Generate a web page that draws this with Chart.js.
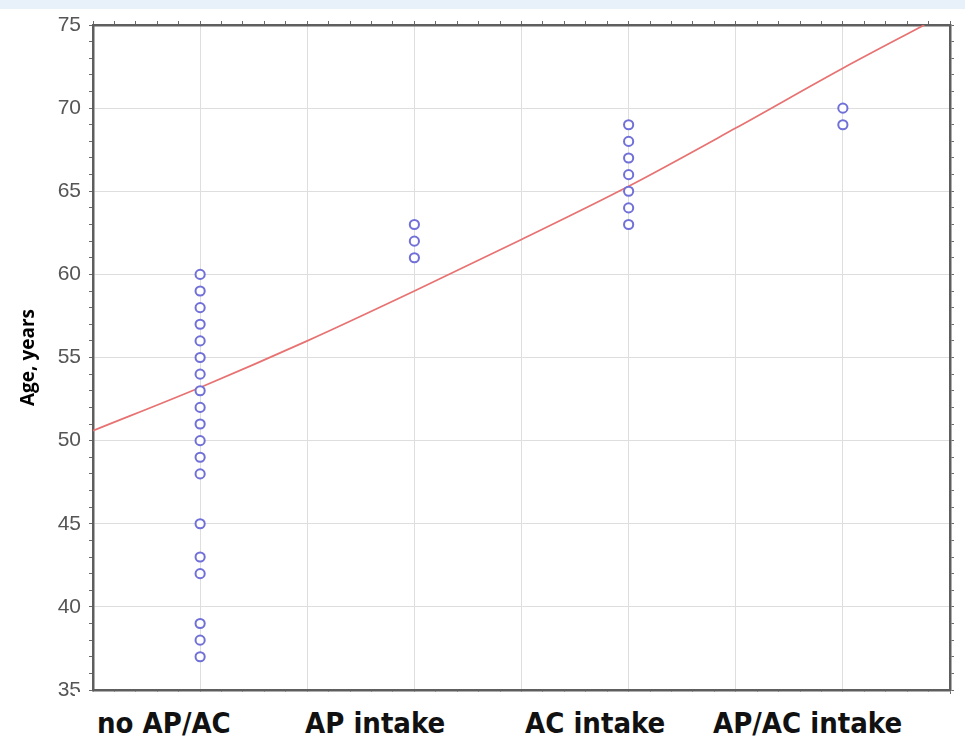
<!DOCTYPE html>
<html>
<head>
<meta charset="utf-8">
<script src="https://cdn.jsdelivr.net/npm/chart.js@4.4.1/dist/chart.umd.min.js"></script>
<style>
html,body{margin:0;padding:0;background:#fff;}
#wrap{position:relative;width:965px;height:741px;overflow:hidden;
  background:linear-gradient(to bottom,#e8f1fa 0,#e8f1fa 9px,#fff 9px);}
#chart{position:absolute;left:0;top:0;}
#cats{position:absolute;left:75px;top:692px;width:860px;height:49px;background:#fff;}
#cats span{position:absolute;top:17px;font:bold 29px "DejaVu Sans Condensed","DejaVu Sans",sans-serif;
  line-height:29px;color:#111;white-space:nowrap;}
</style>
</head>
<body>
<div id="wrap">
  <canvas id="chart" width="965" height="741"></canvas>
  <div id="cats"></div>
</div>
<script>
// groups along the x axis
const categories = ["no AP/AC", "AP intake", "AC intake", "AP/AC intake"];

// age of each patient, per group
const ageNoApAc = [60, 59, 58, 57, 56, 55, 54, 53, 52, 51, 50, 49, 48, 45, 43, 42, 39, 38, 37];
const ageApIntake = [63, 62, 61];
const ageAcIntake = [69, 68, 67, 66, 65, 64, 63];
const ageApAcIntake = [70, 69];

// fitted curve
const trendX = [0.5, 1, 1.5, 2, 2.5, 3, 3.5, 4, 4.38];
const trendY = [50.6, 53.2, 56.0, 59.0, 62.1, 65.3, 68.8, 72.4, 75];

const yTicks = [35, 40, 45, 50, 55, 60, 65, 70, 75];

const groups = [ageNoApAc, ageApIntake, ageAcIntake, ageApAcIntake];
const points = [];
groups.forEach((g, i) => {
    g.forEach(age => points.push({x: i + 1, y: age}));
});

const trend = trendX.map((x, i) => ({x: x, y: trendY[i]}));

function isHalf(v){
    return Math.abs(v * 2 - Math.round(v * 2)) < 1e-6;
}

const frame = "#5e5e5e";
const tickCol = "#6a6a6a";

new Chart(document.getElementById("chart"), {
    type: "scatter",
    data: {
        datasets: [{
            data: points,
            pointStyle: "circle",
            pointRadius: 4.6,
            borderWidth: 2,
            borderColor: "#7070d8",
            backgroundColor: "#fff"
        }, {
            data: trend,
            showLine: true,
            pointRadius: 0,
            borderColor: "#e87272",
            borderWidth: 1.7,
            cubicInterpolationMode: "monotone"
        }]
    },
    options: {
        responsive: false,
        animation: false,
        layout: {padding: 0},
        plugins: {
            legend: {display: false},
            tooltip: {enabled: false}
        },
        scales: {
            x: {
                type: "linear",
                min: 0.5,
                max: 4.5,
                ticks: {stepSize: 0.1, display: false, autoSkip: false},
                grid: {
                    color: ctx => isHalf(ctx.tick.value) ? "#dedede" : "rgba(0,0,0,0)",
                    tickColor: tickCol,
                    tickLength: 4
                },
                border: {color: frame, width: 2.5},
                afterFit: s => { s.height = 51; }
            },
            x2: {
                type: "linear",
                position: "top",
                min: 0.5,
                max: 4.5,
                ticks: {stepSize: 0.1, display: false, autoSkip: false},
                grid: {drawOnChartArea: false, tickColor: tickCol, tickLength: 4},
                border: {color: frame, width: 2.5},
                afterFit: s => { s.height = 25; }
            },
            y: {
                min: 35,
                max: 75,
                ticks: {
                    stepSize: 1,
                    autoSkip: false,
                    padding: 8,
                    color: "#555",
                    font: {family: "'Liberation Sans Narrow', 'Liberation Sans', Arial", size: 21},
                    callback: v => yTicks.includes(v) ? v : ""
                },
                grid: {
                    color: ctx => (ctx.tick.value % 5 === 0) ? "#dedede" : "rgba(0,0,0,0)",
                    tickColor: tickCol,
                    tickLength: 4
                },
                border: {color: frame, width: 2.5},
                title: {
                    display: true,
                    text: "Age, years",
                    color: "#000",
                    font: {family: "'Open Sans', sans-serif", size: 19, weight: "bold"},
                    padding: {top: 17, bottom: 0}
                },
                afterFit: s => { s.width = 93; }
            },
            y2: {
                position: "right",
                min: 35,
                max: 75,
                ticks: {stepSize: 1, display: false, autoSkip: false},
                grid: {drawOnChartArea: false, tickColor: tickCol, tickLength: 4},
                border: {color: frame, width: 2.5},
                afterFit: s => { s.width = 15; }
            }
        }
    }
});

// category names sit in a white strip under the plot
const labelLeft = [22, 230, 450, 638];
const cats = document.getElementById("cats");
categories.forEach((c, i) => {
    const s = document.createElement("span");
    s.textContent = c;
    s.style.left = labelLeft[i] + "px";
    cats.appendChild(s);
});
</script>
</body>
</html>
